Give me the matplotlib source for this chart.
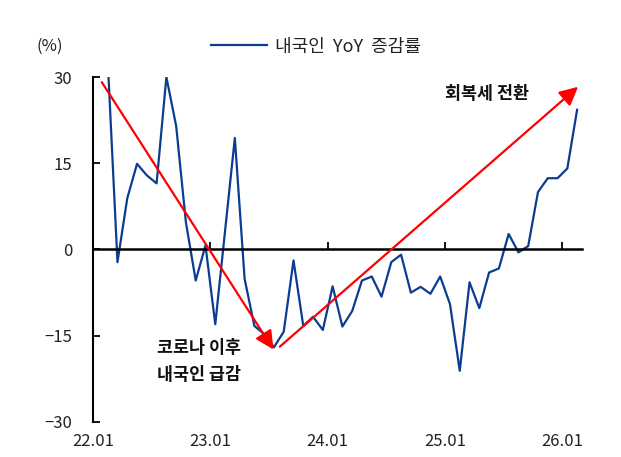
import matplotlib
matplotlib.use('Agg')
import matplotlib.pyplot as plt
import numpy as np

plt.rcParams['font.family'] = ['Noto Sans CJK KR', 'DejaVu Sans']

# monthly YoY, 22.02 ~ 26.02
months = np.arange(49) + 1.5
yoy = [33.0, -2.2, 8.9, 14.9, 12.9, 11.5, 30.0, 21.5, 4.7, -5.4,
       0.7, -13.0, 3.2, 19.4, -5.1, -13.3, -14.7, -17.0, -14.3, -1.9,
       -13.3, -11.7, -14.0, -6.4, -13.4, -10.7, -5.4, -4.7, -8.2, -2.2,
       -0.9, -7.5, -6.5, -7.7, -4.7, -9.5, -21.1, -5.7, -10.2, -4.0,
       -3.3, 2.7, -0.5, 0.6, 10.0, 12.4, 12.4, 14.1, 24.3]
tick_pos = [0, 12, 24, 36, 48]
tick_labels = ['22.01', '23.01', '24.01', '25.01', '26.01']

# trend arrows (start, end) in data coords
down_arrow = [(0.9, 29.1), (18.45, -17.4)]
up_arrow = [(19.1, -16.9), (49.6, 28.3)]

fig = plt.figure(figsize=(6.21, 4.57), dpi=100)
ax = fig.add_axes([0.1498, 0.0766, 0.7874, 0.7549])

ax.plot(months, yoy, color='#0A3D91', lw=1.6, label='내국인  YoY  증감률')

ax.set_xlim(0, 50)
ax.set_ylim(-30, 30)

# axes styling
ax.spines['top'].set_visible(False)
ax.spines['right'].set_visible(False)
ax.spines['left'].set_linewidth(1.5)
ax.spines['bottom'].set_position(('data', 0))
ax.spines['bottom'].set_linewidth(1.8)
ax.set_xticks(tick_pos[1:])
ax.tick_params(axis='x', direction='in', length=5, width=1.3, labelbottom=False)
ax.set_yticks([30, 15, 0, -15, -30])
ax.tick_params(axis='y', direction='in', length=5, width=1.3, pad=15,
               labelsize=12, labelcolor='#222222')

# date labels at the bottom
sec = ax.secondary_xaxis('bottom')
sec.spines['bottom'].set_visible(False)
sec.set_xticks(tick_pos, tick_labels)
sec.tick_params(length=0, pad=8, labelsize=12, labelcolor='#222222')

for (x0, y0), (x1, y1) in [down_arrow, up_arrow]:
    ax.annotate('', xy=(x1, y1), xytext=(x0, y0),
                arrowprops=dict(arrowstyle='-|>,head_length=0.8,head_width=0.4',
                                mutation_scale=14, color='#FF0000', lw=1.6,
                                shrinkA=0, shrinkB=0))

ax.text(40.3, 27.1, '회복세 전환', ha='center', va='center', fontsize=12.5,
        fontweight='bold', color='#111111')
ax.text(10.8, -17.1, '코로나 이후', ha='center', va='center', fontsize=12.5,
        fontweight='bold', color='#111111')
ax.text(10.8, -21.9, '내국인 급감', ha='center', va='center', fontsize=12.5,
        fontweight='bold', color='#111111')

fig.text(49.5 / 621, 1 - 46.5 / 457, '(%)', ha='center', va='center',
         fontsize=12, color='#222222')

ax.legend(loc='center left', bbox_to_anchor=(210.7 / 621, 1 - 46.7 / 457),
          bbox_transform=fig.transFigure, frameon=False, borderpad=0,
          borderaxespad=0, handlelength=3.1, handletextpad=0.45,
          prop={'size': 13}, labelcolor='#222222')

fig.savefig('out.png', dpi=100)
